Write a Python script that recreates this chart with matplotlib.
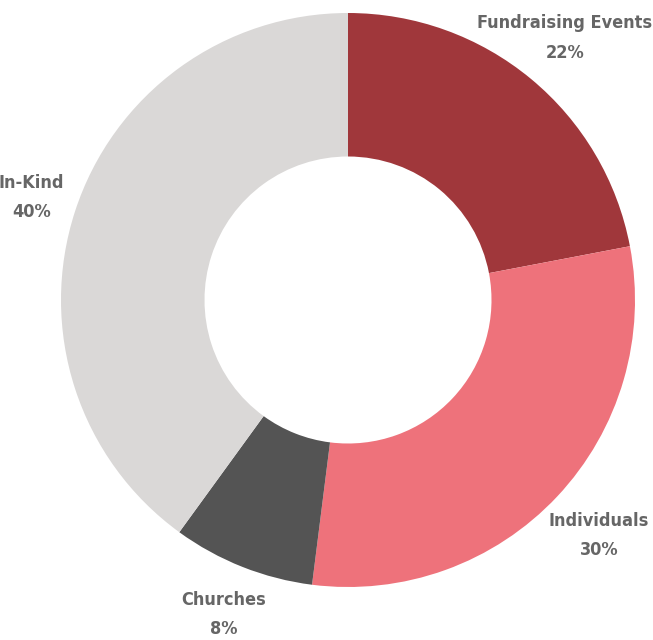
import numpy as np
import matplotlib
matplotlib.use("Agg")
import matplotlib.pyplot as plt

# donut data (clockwise from 12 o'clock)
labels = ["Fundraising Events", "Individuals", "Churches", "In-Kind"]
shares = [22, 30, 8, 40]
colors = ["#A0373B", "#EE727B", "#545454", "#DAD8D7"]

W, H = 653, 640
cx, cy, R = 348, 300, 287  # centre and radius in pixels

fig = plt.figure(figsize=(W / 100, H / 100), dpi=100)
ax = fig.add_axes([0, 0, 1, 1])

wedges, _ = ax.pie(shares, colors=colors, startangle=90, counterclock=False,
                   radius=1.0, wedgeprops=dict(width=0.5, linewidth=0))

ax.set_xlim(-cx / R, (W - cx) / R)
ax.set_ylim(-(H - cy) / R, cy / R)
ax.set_aspect("equal")
ax.axis("off")

dist = [1.185, 1.2, 1.18, 1.16]
for w, lab, s, d in zip(wedges, labels, shares, dist):
    ang = np.deg2rad((w.theta1 + w.theta2) / 2)
    x, y = d * np.cos(ang), d * np.sin(ang)
    ax.text(x, y, f"{lab}\n{s}%", ha="center", va="center", fontsize=13,
            fontweight="bold", family="DejaVu Sans", fontstretch="condensed",
            color="#666666", linespacing=1.8)

fig.savefig("out.png", dpi=100)
